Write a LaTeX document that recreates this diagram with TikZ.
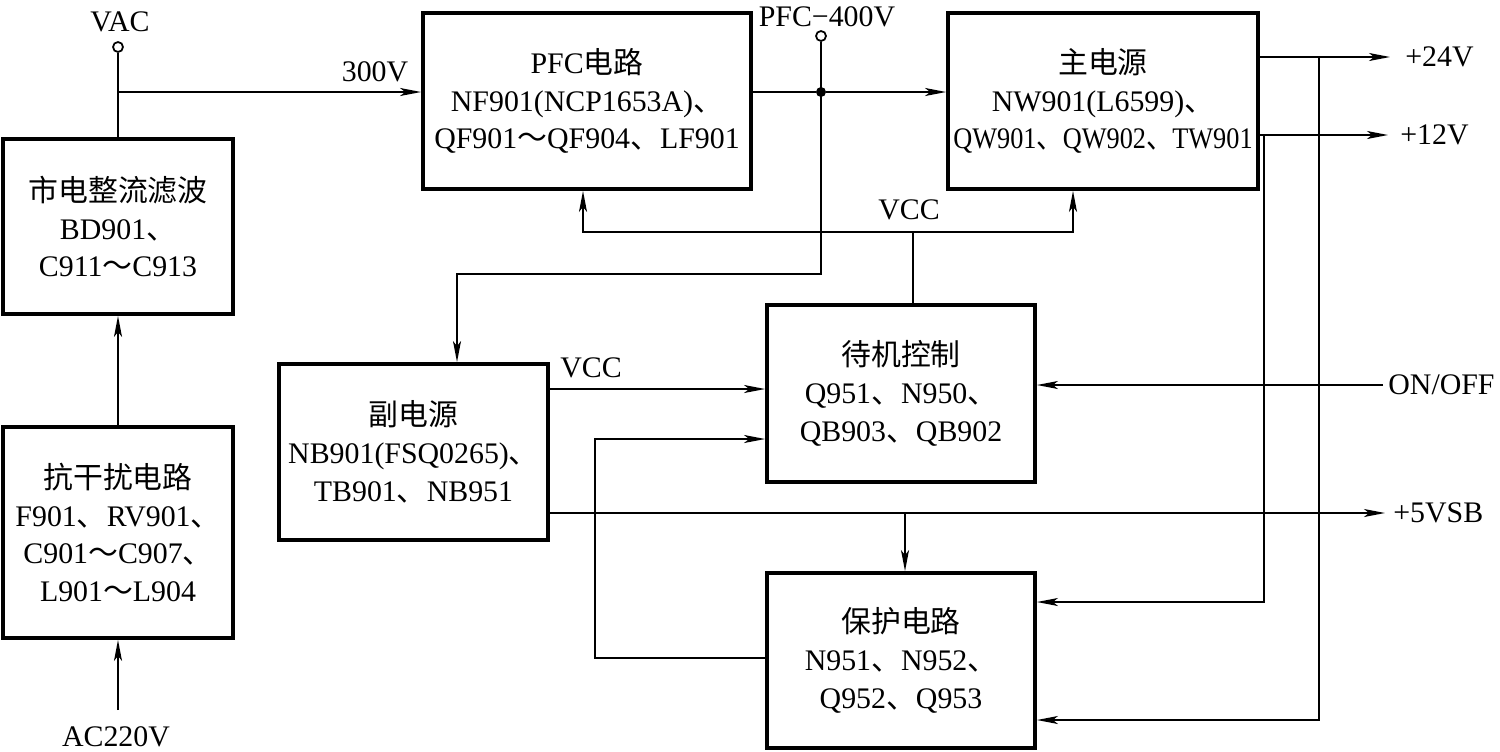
\documentclass[tikz,border=0pt]{standalone}
\usepackage{fontspec}
\usepackage{graphicx}
\setmainfont{Liberation Serif}
\newfontfamily\cjk{Noto Sans CJK SC}
\usetikzlibrary{arrows.meta,calc}
\newcommand\CJKdun{{\cjk 、}}
\newcommand\CJKtilde{{\cjk ～}}
\begin{document}
\begin{tikzpicture}[x=0.02cm,y=-0.02cm, font=\fontsize{17}{21.5}\selectfont,
 blk/.style={draw, line width=2.2pt, inner sep=0pt, align=center},
 wire/.style={line width=1pt},
 arr/.style={wire, -{Stealth[length=0.42cm,width=0.16cm,inset=0.1cm]}},
 lbl/.style={inner sep=0pt},
 term/.style={circle, draw, line width=1pt, fill=white, minimum size=0.2cm, inner sep=0pt},
 jdot/.style={circle, fill, minimum size=0.2cm, inner sep=0pt}]
\useasboundingbox (0,0) rectangle (1500,751);

% blocks
\node[blk, minimum width=4.6cm, minimum height=3.5cm] (rect) at (118,226.5) {{\cjk 市电整流滤波}\\BD901\CJKdun\\C911\CJKtilde C913};
\node[blk, minimum width=4.6cm, minimum height=4.22cm] (anti) at (118,532.5) {{\cjk 抗干扰电路}\\F901\CJKdun RV901\CJKdun\\C901\CJKtilde C907\CJKdun\\L901\CJKtilde L904};
\node[blk, minimum width=6.56cm, minimum height=3.52cm] (pfc) at (587,101) {PFC{\cjk 电路}\\NF901(NCP1653A)\CJKdun\\QF901\CJKtilde QF904\CJKdun LF901};
\node[blk, minimum width=6.2cm, minimum height=3.52cm] (main) at (1103,101) {{\cjk 主电源}\\NW901(L6599)\CJKdun\\\scalebox{0.88}[1]{QW901\CJKdun QW902\CJKdun TW901}};
\node[blk, minimum width=5.36cm, minimum height=3.54cm] (stby) at (901,393.5) {{\cjk 待机控制}\\Q951\CJKdun N950\CJKdun\\QB903\CJKdun QB902};
\node[blk, minimum width=5.38cm, minimum height=3.52cm] (aux) at (413.5,452) {{\cjk 副电源}\\NB901(FSQ0265)\CJKdun\\TB901\CJKdun NB951};
\node[blk, minimum width=5.36cm, minimum height=3.5cm] (prot) at (901,660.5) {{\cjk 保护电路}\\N951\CJKdun N952\CJKdun\\Q952\CJKdun Q953};

% labels and terminals
\node[lbl] (vacl) at (120,22) {VAC};
\node[term] (vac) at (118,47) {};
\node[lbl] (l300) at (375,72) {300V};
\node[lbl, anchor=base] (pfcl) at (827,26) {PFC−400V};
\node[term] (pfct) at (821,36) {};
\node[jdot] (j2) at (821,92) {};
\node[lbl] (vcc1) at (909,210) {VCC};
\node[lbl] (vcc2) at (591,368) {VCC};
\node[lbl, anchor=west] (o24) at (1405,57) {+24V};
\node[lbl, anchor=west] (o12) at (1400,135) {+12V};
\node[lbl, anchor=west] (onoff) at (1388,385) {ON/OFF};
\node[lbl, anchor=west] (o5) at (1393,513) {+5VSB};
\node[lbl] (ac) at (116,737) {AC220V};

% connectors
\coordinate (acin) at (118,710);
\draw[arr] (acin) -- (anti.south);
\draw[arr] (anti.north) -- (rect.south);
\draw[wire] (rect.north) -- (vac.south);
\coordinate (j1) at (118,92);
\draw[arr] (j1) -- (j1 -| pfc.west);
\draw[wire] (j2 -| pfc.east) -- (j2);
\draw[arr] (j2) -- (j2 -| main.west);
\coordinate (c1) at (821,274);
\coordinate (c2) at (457,274);
\draw[arr] (pfct.south) -- (c1) -- (c2) -- (c2 |- aux.north);
\coordinate (v) at (913,232);
\coordinate (vp) at (583,232);
\coordinate (vm) at (1073,232);
\draw[wire] (v |- stby.north) -- (v);
\draw[arr] (v) -- (vp) -- (vp |- pfc.south);
\draw[arr] (v) -- (vm) -- (vm |- main.south);
\coordinate (s1) at (548,389);
\draw[arr] (s1 -| aux.east) -- (s1 -| stby.west);
\coordinate (b5) at (905,513);
\coordinate (e5) at (1385,513);
\draw[arr] (b5 -| aux.east) -- (e5);
\draw[arr] (b5) -- (b5 |- prot.north);
\coordinate (f1) at (595,658);
\coordinate (f2) at (595,439);
\draw[arr] (f1 -| prot.west) -- (f1) -- (f2) -- (f2 -| stby.west);
\coordinate (on) at (1383,385);
\draw[arr] (on) -- (on -| stby.east);
\coordinate (e24) at (1390,57);
\coordinate (x24) at (1319,57);
\coordinate (x24b) at (1319,720);
\draw[arr] (x24 -| main.east) -- (e24);
\draw[arr] (x24) -- (x24b) -- (x24b -| prot.east);
\coordinate (e12) at (1388,135);
\coordinate (x12) at (1264,135);
\coordinate (x12b) at (1264,602);
\draw[arr] (x12 -| main.east) -- (e12);
\draw[arr] (x12) -- (x12b) -- (x12b -| prot.east);
\end{tikzpicture}
\end{document}
